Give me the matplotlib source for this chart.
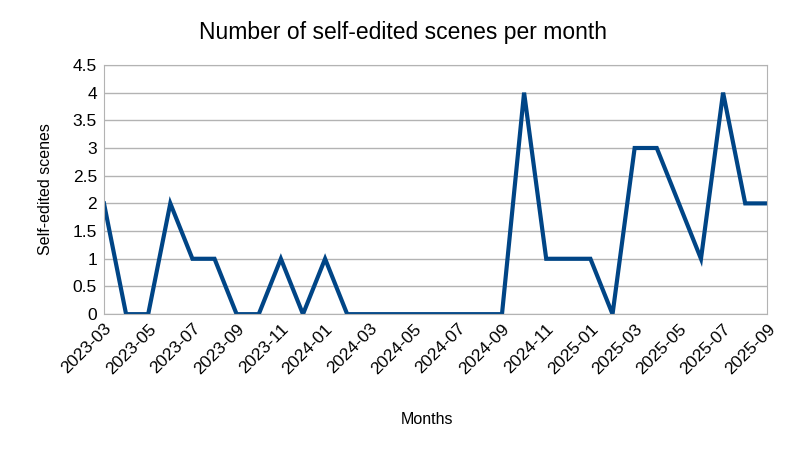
import matplotlib
matplotlib.use("Agg")
import matplotlib.pyplot as plt

plt.rcParams['font.family'] = ['Liberation Sans', 'DejaVu Sans']

months = ["2023-03","2023-04","2023-05","2023-06","2023-07","2023-08","2023-09","2023-10","2023-11","2023-12",
          "2024-01","2024-02","2024-03","2024-04","2024-05","2024-06","2024-07","2024-08","2024-09","2024-10",
          "2024-11","2024-12","2025-01","2025-02","2025-03","2025-04","2025-05","2025-06","2025-07","2025-08","2025-09"]
values = [2,0,0,2,1,1,0,0,1,0,
          1,0,0,0,0,0,0,0,0,4,
          1,1,1,0,3,3,2,1,4,2,2]
yticks = [0,0.5,1,1.5,2,2.5,3,3.5,4,4.5]
ylabels = ["0","0.5","1","1.5","2","2.5","3","3.5","4","4.5"]

fig = plt.figure(figsize=(8.06,4.54), dpi=100)
ax = fig.add_axes([0.129,0.308,0.823,0.549])
x = list(range(len(months)))
ax.plot(x, values, color='#004586', lw=3, solid_joinstyle='miter')
ax.set_xlim(0, len(months)-1)
ax.set_ylim(0, 4.5)
ax.set_yticks(yticks)
ax.set_yticklabels(ylabels, fontsize=12.5)
ax.set_xticks(x[::2])
ax.set_xticklabels(months[::2], rotation=45, ha='right', rotation_mode='anchor', fontsize=12.5)
ax.grid(axis='y', color='#b3b3b3', lw=1)
ax.set_axisbelow(True)
for s in ax.spines.values():
    s.set_color('#b3b3b3')
ax.tick_params(length=0, pad=5)
ax.set_ylabel("Self-edited scenes", fontsize=11.5, labelpad=14)
fig.text(0.53, 0.065, "Months", ha='center', fontsize=11.5)
fig.text(0.5, 0.915, "Number of self-edited scenes per month", ha='center', fontsize=16.5)
fig.savefig("out.png", dpi=100)
